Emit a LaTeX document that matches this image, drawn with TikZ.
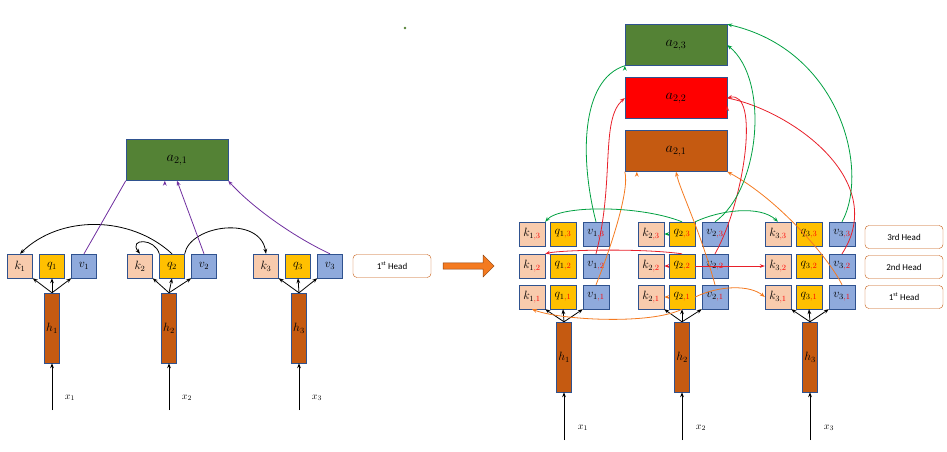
\documentclass[tikz,border=0pt]{standalone}
\usepackage{fontspec}
\usetikzlibrary{arrows.meta,shapes.arrows}
\setmainfont{Carlito}
\definecolor{kc}{HTML}{F8CBAD}\definecolor{qc}{HTML}{FFC000}\definecolor{vc}{HTML}{8FAADC}
\definecolor{hc}{HTML}{C55A11}\definecolor{gc}{HTML}{548235}\definecolor{bd}{HTML}{2F528F}
\definecolor{pur}{HTML}{7030A0}\definecolor{gr}{HTML}{00A040}\definecolor{rd}{HTML}{E8202A}\definecolor{og}{HTML}{F47A20}
\begin{document}
\begin{tikzpicture}[x=1pt,y=-1pt,
 cell/.style={draw=bd,minimum width=25pt,minimum height=24pt,inner sep=0pt,font=\large},
 kk/.style={cell,fill=kc},qq/.style={cell,fill=qc},vv/.style={cell,fill=vc},
 hh/.style={draw=bd,fill=hc,minimum width=15pt,minimum height=70pt,inner sep=0pt,font=\large},
 aa/.style={draw=bd,minimum width=102pt,minimum height=41pt,font=\Large},
 head/.style={draw=hc,rounded corners=4pt,minimum width=78pt,minimum height=23pt,font=\small},
 ar/.style={-{Stealth[length=5pt]},line width=0.8pt},
 s/.style={font=\scriptsize,text=red}]
\useasboundingbox (0,0) rectangle (947,451);
\fill[gc] (405,28) circle (1.3);
% ---------- left
\node[aa,fill=gc] (A) at (177,160) {$a_{2,1}$};
\foreach \i/\x in {1/20,2/140,3/266}{
 \node[kk] (k\i) at (\x,266) {$k_{\i}$};
 \node[qq] (q\i) at (\x+32,266) {$q_{\i}$};
 \node[vv] (v\i) at (\x+64,266) {$v_{\i}$};
}
\foreach \i/\x in {1/52,2/169,3/299}{
 \node[hh] (h\i) at (\x,328) {$h_{\i}$};
 \coordinate (xb\i) at (\x,410);
 \draw[ar] (xb\i) -- (h\i.south);
 \node at (\x+18,398) {$x_{\i}$};
 \draw[ar] (h\i.north) -- (k\i.south east);
 \draw[ar] (h\i.north) -- (q\i.south);
 \draw[ar] (h\i.north) -- (v\i.south west);
}
\draw[ar] (q2.north) .. controls (130,215) and (60,215) .. (k1.north);
\draw[ar] (q2.north west) .. controls (155,238) and (128,238) .. (k2.north);
\draw[ar] (q2.north east) .. controls (190,225) and (260,215) .. (k3.north);
\draw[pur,ar] (v1.north) -- (A.south west) ++(39,0);
\draw[pur,ar] (v2.north) -- (A.south);
\draw[pur,ar] (v3.north) .. controls (290,235) and (250,205) .. (A.south east);
\node[head] (H0) at (392,266) {1\textsuperscript{st} Head};
\node[single arrow,draw=hc!70!black,fill=og,minimum height=51pt,minimum width=22pt,single arrow head extend=3pt,inner sep=1pt] (BA) at (467,266) {};
% ---------- right
\node[aa,fill=gc] (A3) at (676,45) {$a_{2,3}$};
\node[aa,fill=red] (A2) at (676,98) {$a_{2,2}$};
\node[aa,fill=hc] (A1) at (676,151) {$a_{2,1}$};
\foreach \r/\y in {3/234,2/266,1/297}{
 \foreach \i/\x in {1/532,2/651,3/778}{
  \node[kk,minimum width=26pt] (k\i\r) at (\x,\y) {$k_{\i\textcolor{red}{,\r}}$};
  \node[qq,minimum width=26pt] (q\i\r) at (\x+31,\y) {$q_{\i\textcolor{red}{,\r}}$};
  \node[vv,minimum width=26pt] (v\i\r) at (\x+64,\y) {$v_{\i\textcolor{red}{,\r}}$};
 }
}
\node[head] (H3) at (904,237) {3rd Head};
\node[head] (H2) at (904,267) {2nd Head};
\node[head] (H1) at (904,297) {1\textsuperscript{st} Head};
\foreach \i/\x in {1/564,2/682,3/810}{
 \node[hh] (g\i) at (\x,357) {$h_{\i}$};
 \coordinate (yb\i) at (\x,440);
 \draw[ar] (yb\i) -- (g\i.south);
 \node at (\x+19,428) {$x_{\i}$};
 \draw[ar] (g\i.north) -- (k\i1.south east);
 \draw[ar] (g\i.north) -- (q\i1.south);
 \draw[ar] (g\i.north) -- (v\i1.south west);
}
% orange (head 1)
\draw[og,ar] (q21.south) .. controls (650,325) and (560,320) .. (k11.south);
\draw[og,ar] (q21.west) -- (k21.east);
\draw[og,ar] (q21.east) .. controls (720,285) and (750,285) .. (k31.west);
\draw[og,ar] (v11.north) .. controls (610,250) and (630,190) .. (A1.south west) ++(12,0);
\draw[og,ar] (v21.north) .. controls (700,230) and (680,190) .. (A1.south) ;
\draw[og,ar] (v31.north) .. controls (830,260) and (780,200) .. (A1.south east);
% red (head 2)
\draw[rd,ar] (q22.north) .. controls (640,248) and (560,250) .. (k12.north east);
\draw[rd,ar] (q22.west) -- (k22.east);
\draw[rd,ar] (q22.east) -- (k32.west);
\draw[rd,ar] (v12.north) .. controls (615,180) and (600,120) .. (A2.west);
\draw[rd,ar] (v22.north) .. controls (745,200) and (760,90) .. (A2.east);
\draw[rd,ar] (v32.north) .. controls (890,180) and (790,110) .. (A2.east) ++(0,8);
% green (head 3)
\draw[gr,ar] (q23.north) .. controls (640,205) and (560,205) .. (k13.north east);
\draw[gr,ar] (q23.west) -- (k23.east);
\draw[gr,ar] (q23.north east) .. controls (720,210) and (760,205) .. (k33.north);
\draw[gr,ar] (v13.north) .. controls (580,160) and (580,80) .. (A3.south west) ++(0,0);
\draw[gr,ar] (v23.north) .. controls (760,190) and (770,80) .. (A3.east);
\draw[gr,ar] (v33.north) .. controls (870,170) and (840,50) .. (A3.north east);
\end{tikzpicture}
\end{document}
